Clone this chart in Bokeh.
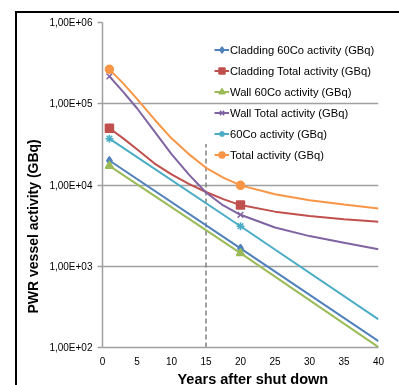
import math
from bokeh.plotting import figure
from bokeh.models import (Range1d, FixedTicker, Legend, LegendItem, Title)
from bokeh.embed import file_html
from bokeh.resources import INLINE

# ---- data ----
years = [1, 3, 5, 7.5, 10, 12.5, 15, 17.5, 20, 25, 30, 35, 40]
cladding_total = [5.0e4, 3.75e4, 2.75e4, 1.85e4, 1.35e4, 1.03e4, 8.2e3, 6.7e3, 5.66e3, 4.7e3, 4.15e3, 3.8e3, 3.52e3]
wall_total = [2.17e5, 1.4e5, 8.8e4, 4.6e4, 2.4e4, 1.35e4, 8.1e3, 5.6e3, 4.3e3, 3.0e3, 2.35e3, 1.95e3, 1.62e3]
total = [2.65e5, 1.78e5, 1.15e5, 6.45e4, 3.75e4, 2.4e4, 1.63e4, 1.23e4, 9.9e3, 7.7e3, 6.5e3, 5.75e3, 5.15e3]

co_years = [1, 20, 40]
cladding_co = [2.0e4, 1.66e3, 120]
wall_co = [1.72e4, 1.45e3, 101]
co_total = [3.72e4, 3.11e3, 222]

marker_years = [1, 20]

vline_x = [15, 15]
vline_y = [100, 3.2e4]

x_ticks = [0, 5, 10, 15, 20, 25, 30, 35, 40]
y_ticks = [1e2, 1e3, 1e4, 1e5, 1e6]
y_tick_labels = ["1,00E+02", "1,00E+03", "1,00E+04", "1,00E+05", "1,00E+06"]

labels = ["Cladding 60Co activity (GBq)", "Cladding Total activity (GBq)",
          "Wall 60Co activity (GBq)", "Wall Total activity (GBq)",
          "60Co activity (GBq)", "Total activity (GBq)"]
colors = ["#4F81BD", "#C0504D", "#9BBB59", "#8064A2", "#4BACC6", "#F79646"]
markers = ["diamond", "square", "triangle", "x", "asterisk", "circle"]
series_x = [co_years, years, co_years, years, co_years, years]
series_y = [cladding_co, cladding_total, wall_co, wall_total, co_total, total]

FONT = "Liberation Sans"

p = figure(width=384, height=378, y_axis_type="log",
           x_range=Range1d(0, 40), y_range=Range1d(100, 1e6),
           output_backend="svg", toolbar_location=None,
           min_border_left=85, min_border_right=23,
           min_border_top=9, min_border_bottom=44)
p.styles = {"position": "fixed", "left": "15px", "top": "11px",
            "border-left": "2px solid black", "border-top": "2px solid black"}
p.outline_line_color = None
p.background_fill_color = "white"
p.border_fill_color = "white"

# grid
p.xgrid.visible = False
p.ygrid.ticker = FixedTicker(ticks=y_ticks)
p.ygrid.grid_line_color = "#A0A0A0"
p.ygrid.grid_line_width = 1.5

# axes
p.xaxis.ticker = FixedTicker(ticks=x_ticks)
p.yaxis.ticker = FixedTicker(ticks=y_ticks)
p.yaxis.major_label_overrides = {float(t): l for t, l in zip(y_ticks, y_tick_labels)}
for ax in (p.xaxis[0], p.yaxis[0]):
    ax.axis_line_color = "#A0A0A0"
    ax.axis_line_width = 1.5
    ax.major_tick_line_color = "#A0A0A0"
    ax.major_tick_line_width = 1.5
    ax.minor_tick_line_color = None
    ax.major_tick_in = 0
    ax.major_label_text_font = FONT
    ax.major_label_text_font_size = "10px"
    ax.major_label_text_color = "#000000"
p.xaxis.major_tick_out = 0
p.xaxis.major_label_standoff = 9
p.yaxis.major_tick_out = 5
p.yaxis.major_label_standoff = 5

# dashed reference line
p.line(vline_x, vline_y, line_color="#808080", line_width=1.5, line_dash="5 3")

items = []
for lab, col, mk, xs, ys in zip(labels, colors, markers, series_x, series_y):
    lr = p.line(xs, ys, line_color=col, line_width=2)
    my = [ys[xs.index(m)] for m in marker_years]
    sr = p.scatter(marker_years, my, marker=mk, size=8,
                   fill_color=col, line_color=col, line_width=1.5)
    items.append(LegendItem(label=lab, renderers=[lr, sr]))

legend = Legend(items=items, location=(112, 182), glyph_width=15, glyph_height=21,
                label_height=21, spacing=0, padding=0, margin=0, label_standoff=1,
                label_text_font=FONT, label_text_font_size="11.2px",
                label_text_color="#000000",
                border_line_color=None, background_fill_alpha=0)
p.add_layout(legend)

# axis titles
ytitle = Title(text="PWR vessel activity (GBq)", align="left", offset=34,
               vertical_align="middle", standoff=10,
               text_font=FONT, text_font_style="bold", text_font_size="14px",
               text_color="#000000")
p.add_layout(ytitle, "left")
xtitle = Title(text="Years after shut down", align="left", offset=75,
               vertical_align="top", standoff=6,
               text_font=FONT, text_font_style="bold", text_font_size="14.5px",
               text_color="#000000")
p.add_layout(xtitle, "below")

open("out.html", "w").write(file_html(p, INLINE))
